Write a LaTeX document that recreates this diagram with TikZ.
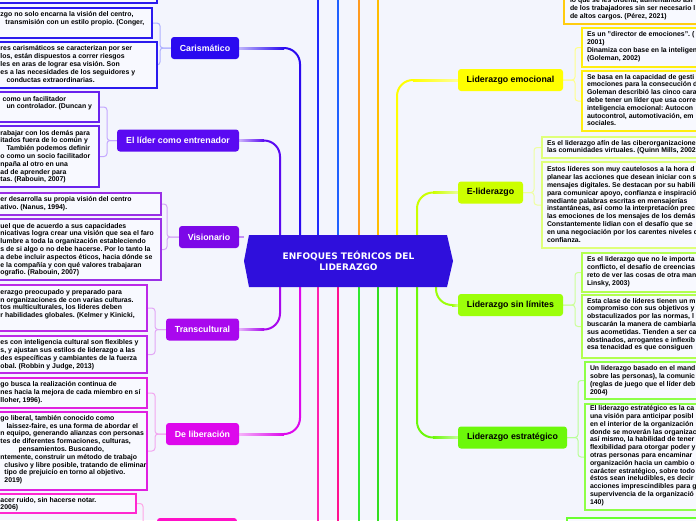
\documentclass[tikz,border=0pt]{standalone}
\usepackage{fontspec}
\setmainfont{Liberation Sans}
\newfontfamily\titlefont{DejaVu Sans}
\usetikzlibrary{backgrounds}
\newcommand{\boxlines}[1]{\begin{tabular}{@{}l@{}}#1\end{tabular}}
\definecolor{bgc}{HTML}{F3F5FD}
\definecolor{boxfill}{HTML}{F8F9FF}
\definecolor{cenc}{HTML}{2F0FDC}
\definecolor{nA}{HTML}{2A0AF0}
\definecolor{nB}{HTML}{5A0AF2}
\definecolor{nC}{HTML}{7C08E8}
\definecolor{nD}{HTML}{A908EE}
\definecolor{nE}{HTML}{DD08EC}
\definecolor{nF}{HTML}{FF10C8}
\definecolor{nG}{HTML}{FFFF00}
\definecolor{nH}{HTML}{CCFF00}
\definecolor{nI}{HTML}{9CFF0A}
\definecolor{nJ}{HTML}{6CF80A}
\definecolor{bA}{HTML}{2A1AEE}
\definecolor{bB}{HTML}{6A22EE}
\definecolor{bC}{HTML}{9A30E6}
\definecolor{bD}{HTML}{BC28E8}
\definecolor{bE}{HTML}{E020E0}
\definecolor{bF}{HTML}{FF28D0}
\definecolor{rA}{HTML}{FFCC10}
\definecolor{rB}{HTML}{FFEE10}
\definecolor{rC}{HTML}{DFFF7A}
\definecolor{rD}{HTML}{B2FF50}
\definecolor{rE}{HTML}{8EFF48}
\definecolor{rF}{HTML}{6AFF30}
\definecolor{kA}{HTML}{AEB0FF}
\definecolor{kB}{HTML}{C4A8FF}
\definecolor{kC}{HTML}{D4A8F6}
\definecolor{kD}{HTML}{E2A6F6}
\definecolor{kE}{HTML}{F2A6F0}
\definecolor{kF}{HTML}{FFA6E6}
\definecolor{kG}{HTML}{FFFF8A}
\definecolor{kH}{HTML}{EEFFA0}
\definecolor{kI}{HTML}{CCFF99}
\definecolor{kJ}{HTML}{B8FF96}
\definecolor{tA}{HTML}{1E2BFF}
\definecolor{tB}{HTML}{2060FF}
\definecolor{tC}{HTML}{FF9A20}
\definecolor{tD}{HTML}{FFBE00}
\definecolor{uA}{HTML}{FF20B0}
\definecolor{uB}{HTML}{FF1090}
\definecolor{uC}{HTML}{30E830}
\definecolor{uD}{HTML}{30DE20}
\definecolor{uE}{HTML}{50F020}
\begin{document}
\begin{tikzpicture}[x=1pt,y=-1pt,
  every node/.style={inner sep=0pt, outer sep=0pt},
  topic/.style={rounded corners=3pt, minimum height=22pt, font=\bfseries\fontsize{8.8}{10}\selectfont},
  ltopic/.style={topic, text=white},
  rtopic/.style={topic, text=black},
  tbox/.style={draw, line width=1.2pt, fill=boxfill},
  btext/.style={font=\bfseries\fontsize{6.9}{7.8}\selectfont\frenchspacing, text=black},
  mainline/.style={line width=2pt, rounded corners=16pt},
  brk/.style={line width=1pt, rounded corners=3pt},
  title/.style={font=\titlefont\bfseries\fontsize{9}{11}\selectfont, text=white, align=center, minimum width=209pt, minimum height=52pt}
]
\useasboundingbox (0,0) rectangle (696,520);
\clip (0,0) rectangle (696,520);

% ---------- central topic ----------
\node[title] (cen) at (348.5,261) {ENFOQUES TEÓRICOS DEL\\LIDERAZGO};

% ---------- left topics ----------
\node[ltopic, fill=nA, minimum width=68pt, anchor=east] (cari) at (239,48) {Carismático};
\node[ltopic, fill=nB, minimum width=122pt, anchor=east] (entr) at (239,140.5) {El líder como entrenador};
\node[ltopic, fill=nC, minimum width=60pt, anchor=east] (vis) at (239,237) {Visionario};
\node[ltopic, fill=nD, minimum width=73pt, anchor=east] (trans) at (239,329.5) {Transcultural};
\node[ltopic, fill=nE, minimum width=73pt, anchor=east] (lib) at (239,434) {De liberación};
\node[ltopic, fill=nF, minimum width=80pt, anchor=north east] (bot) at (237,518) {};

% ---------- right topics ----------
\node[rtopic, fill=nG, minimum width=105pt, anchor=west] (emo) at (458,80) {Liderazgo emocional};
\node[rtopic, fill=nH, minimum width=65pt, anchor=west] (eli) at (458,192.5) {E-liderazgo};
\node[rtopic, fill=nI, minimum width=105pt, anchor=west] (sin) at (458,305) {Liderazgo sin límites};
\node[rtopic, fill=nJ, minimum width=109pt, anchor=west] (est) at (458,437.5) {Liderazgo estratégico};

% ---------- left boxes ----------
\node[tbox, draw=bA, minimum width=160.5pt, minimum height=40pt, anchor=south east] (b0) at (157,3) {};
\node[tbox, draw=bA, minimum width=155.5pt, minimum height=30pt, anchor=north east] (b2) at (152,8) {};
\node[btext, anchor=west] (b2t) at (0.5,19) {\boxlines{zgo no solo encarna la visión del centro,\\\hspace*{5pt}transmisión con un estilo propio. (Conger,}};
\node[tbox, draw=bA, minimum width=160.5pt, minimum height=46pt, anchor=north east] (b3) at (157,42) {};
\node[btext, anchor=west] (b3t) at (0.5,65) {\boxlines{res carismáticos se caracterizan por ser\\los, están dispuestos a correr riesgos\\les en aras de lograr esa visión. Son\\es a las necesidades de los seguidores y\\\hspace*{6pt}conductas extraordinarias.}};
\node[tbox, draw=bB, minimum width=102.5pt, minimum height=30pt, anchor=north east] (b4) at (99,92) {};
\node[btext, anchor=west] (b4t) at (0.5,103.5) {\boxlines{\hspace*{2pt}como un facilitador\\\hspace*{6pt}un controlador. (Duncan y}};
\node[tbox, draw=bB, minimum width=102.5pt, minimum height=61pt, anchor=north east] (b5) at (99,126) {};
\node[btext, anchor=west] (b5t) at (0.5,157) {\boxlines{rabajar con los demás para\\itados fuera de lo común y\\\hspace*{6pt}También podemos definir\\o como un socio facilitador\\npaña al otro en una\\ad de aprender para\\tas. (Rabouin, 2007)}};
\node[tbox, draw=bC, minimum width=164.5pt, minimum height=22pt, anchor=north east] (b6) at (161,193) {};
\node[btext, anchor=west] (b6t) at (0.5,204) {\boxlines{er desarrolla su propia visión del centro\\ativo. (Nanus, 1994).}};
\node[tbox, draw=bC, minimum width=164.5pt, minimum height=61pt, anchor=north east] (b7) at (161,219) {};
\node[btext, anchor=west] (b7t) at (0.5,250) {\boxlines{uel que de acuerdo a sus capacidades\\nicativas logra crear una visión que sea el faro\\lumbre a toda la organización estableciendo\\s de si algo o no debe hacerse. Por lo tanto la\\a debe incluir aspectos éticos, hacia dónde se\\e la compañía y con qué valores trabajaran\\ografio. (Rabouin, 2007)}};
\node[tbox, draw=bD, minimum width=150.5pt, minimum height=46pt, anchor=north east] (b8) at (147,285) {};
\node[btext, anchor=west] (b8t) at (0.5,304.5) {\boxlines{erazgo preocupado y preparado para\\n organizaciones de con varias culturas.\\tos multiculturales, los líderes deben\\r habilidades globales. (Kelmer y Kinicki,}};
\node[tbox, draw=bD, minimum width=150.5pt, minimum height=37pt, anchor=north east] (b9) at (147,336) {};
\node[btext, anchor=west] (b9t) at (0.5,355) {\boxlines{es con inteligencia cultural son flexibles y\\s, y ajustan sus estilos de liderazgo a las\\des específicas y cambiantes de la fuerza\\obal. (Robbin y Judge, 2013)}};
\node[tbox, draw=bE, minimum width=150.5pt, minimum height=30pt, anchor=north east] (b10) at (147,378) {};
\node[btext, anchor=west] (b10t) at (0.5,393) {\boxlines{go busca la realización continua de\\nes hacia la mejora de cada miembro en sí\\lloher, 1996).}};
\node[tbox, draw=bE, minimum width=150.5pt, minimum height=78pt, anchor=north east] (b11) at (147,412) {};
\node[btext, anchor=west] (b11t) at (0.5,450) {\boxlines{go liberal, también conocido como\\\hspace*{6pt}laissez-faire, es una forma de abordar el\\n equipo, generando alianzas con personas\\tes de diferentes formaciones, culturas,\\\hspace*{18pt}pensamientos. Buscando,\\ntemente, construir un método de trabajo\\\hspace*{4pt}clusivo y libre posible, tratando de eliminar\\\hspace*{4pt}tipo de prejuicio en torno al objetivo.\\\hspace*{4pt}2019)}};
\node[tbox, draw=bF, minimum width=139.5pt, minimum height=19pt, anchor=north east] (b12) at (136,494) {};
\node[btext, anchor=west] (b12t) at (0.5,504.5) {\boxlines{acer ruido, sin hacerse notar.\\2006)}};

% ---------- right boxes ----------
\node[tbox, draw=rA, minimum width=140pt, minimum height=40pt, anchor=south west] (rtop) at (564,24) {};
\node[btext, anchor=west] (rtopt) at (570,9) {\boxlines{lo que se les ordena, aumentando así\\de los trabajadores sin ser necesario l\\de altos cargos. (Pérez, 2021)}};
\node[tbox, draw=rB, minimum width=130pt, minimum height=39pt, anchor=north west] (b13) at (582,28) {};
\node[btext, anchor=west] (b13t) at (587,47) {\boxlines{Es un "director de emociones". (\\2001)\\Dinamiza con base en la inteligen\\(Goleman, 2002)}};
\node[tbox, draw=rB, minimum width=130pt, minimum height=60pt, anchor=north west] (b14) at (582,71) {};
\node[btext, anchor=west] (b14t) at (587,101) {\boxlines{Se basa en la capacidad de gesti\\emociones para la consecución d\\Goleman describió las cinco cara\\debe tener un líder que usa corre\\inteligencia emocional: Autocon\\autocontrol, automotivación, em\\sociales.}};
\node[tbox, draw=rC, minimum width=170pt, minimum height=21pt, anchor=north west] (b15) at (542,137) {};
\node[btext, anchor=west] (b15t) at (547,147.5) {\boxlines{Es el liderazgo afín de las ciberorganizacione\\las comunidades virtuales. (Quinn Mills, 2002}};
\node[tbox, draw=rC, minimum width=170pt, minimum height=86pt, anchor=north west] (b16) at (542,162) {};
\node[btext, anchor=west] (b16t) at (547,205.5) {\boxlines{Estos líderes son muy cautelosos a la hora d\\planear las acciones que desean iniciar con s\\mensajes digitales. Se destacan por su habili\\para comunicar apoyo, confianza e inspiració\\mediante palabras escritas en mensajerías\\instantáneas, así como la interpretación prec\\las emociones de los mensajes de los demás\\Constantemente lidian con el desafío que se\\en una negociación por los carentes niveles d\\confianza.}};
\node[tbox, draw=rD, minimum width=130pt, minimum height=39pt, anchor=north west] (b17) at (582,253) {};
\node[btext, anchor=west] (b17t) at (587,272) {\boxlines{Es el liderazgo que no le importa\\conflicto, el desafío de creencias\\reto de ver las cosas de otra man\\Linsky, 2003)}};
\node[tbox, draw=rD, minimum width=130pt, minimum height=63pt, anchor=north west] (b18) at (582,295) {};
\node[btext, anchor=west] (b18t) at (587,325) {\boxlines{Esta clase de líderes tienen un m\\compromiso con sus objetivos y\\obstaculizados por las normas, l\\buscarán la manera de cambiarla\\sus acometidas. Tienden a ser ca\\obstinados, arrogantes e inflexib\\esa tenacidad es que consiguen}};
\node[tbox, draw=rE, minimum width=130pt, minimum height=37pt, anchor=north west] (b19) at (585,362) {};
\node[btext, anchor=west] (b19t) at (590,381) {\boxlines{Un liderazgo basado en el mand\\sobre las personas), la comunic\\(reglas de juego que el líder deb\\2004)}};
\node[tbox, draw=rE, minimum width=130pt, minimum height=106pt, anchor=north west] (b20) at (585,404) {};
\node[btext, anchor=west] (b20t) at (590,456) {\boxlines{El liderazgo estratégico es la ca\\una visión para anticipar posibl\\en el interior de la organización\\donde se moverán las organizac\\así mismo, la habilidad de tener\\flexibilidad para otorgar poder y\\otras personas para encaminar\\organización hacia un cambio o\\carácter estratégico, sobre todo\\éstos sean ineludibles, es decir\\acciones imprescindibles para g\\supervivencia de la organizació\\140)}};
\node[tbox, draw=rF, minimum width=140pt, minimum height=30pt, anchor=north west] (rbot) at (567,518) {};

% ---------- x positions of the trunk lines ----------
\coordinate (xa) at (280,0);
\coordinate (xb) at (300,0);
\coordinate (xg) at (397,0);
\coordinate (xh) at (417,0);
\coordinate (xi) at (436,0);
\coordinate (t1) at (318,-5);
\coordinate (t2) at (338,-5);
\coordinate (t3) at (359,-5);
\coordinate (t4) at (378,-5);
\coordinate (u1) at (318,525);
\coordinate (u2) at (338,525);
\coordinate (u3) at (359,525);
\coordinate (u4) at (378,525);
\coordinate (u5) at (397,525);

\begin{scope}[on background layer]
\clip (0,0) rectangle (696,520);
\fill[bgc] (0,0) rectangle (696,520);
% brackets
\draw[brk,kA] (cari.west) -- ++(-11,0) |- (b2.east);
\draw[brk,kA] (cari.west) -- ++(-11,0) |- (b3.east);
\draw[brk,kB] (entr.west) -- ++(-10,0) |- (b4.east);
\draw[brk,kB] (entr.west) -- ++(-10,0) |- (b5.east);
\draw[brk,kC] (vis.west) -- ++(-12,0) |- (b6.east);
\draw[brk,kC] (vis.west) -- ++(-12,0) |- (b7.east);
\draw[brk,kD] (trans.west) -- ++(-11,0) |- (b8.east);
\draw[brk,kD] (trans.west) -- ++(-11,0) |- (b9.east);
\draw[brk,kE] (lib.west) -- ++(-11,0) |- (b10.east);
\draw[brk,kE] (lib.west) -- ++(-11,0) |- (b11.east);
\draw[brk,kF] (bot.west) -- ++(-14,0) |- (b12.east);
\draw[brk,kG] (emo.east) -- ++(12,0) |- (b13.west);
\draw[brk,kG] (emo.east) -- ++(12,0) |- (b14.west);
\draw[brk,kH] (eli.east) -- ++(11,0) |- (b15.west);
\draw[brk,kH] (eli.east) -- ++(11,0) |- (b16.west);
\draw[brk,kI] (sin.east) -- ++(12,0) |- (b17.west);
\draw[brk,kI] (sin.east) -- ++(12,0) |- (b18.west);
\draw[brk,kJ] (est.east) -- ++(11,0) |- (b19.west);
\draw[brk,kJ] (est.east) -- ++(11,0) |- (b20.west);
% main connectors
\draw[mainline,nA] (cari.east) -| (cen.north -| xb);
\draw[mainline,nB] (entr.east) -| (cen.north -| xa);
\draw[line width=2pt,nC!45!white] (vis.east) -- (vis.east -| cen.west);
\draw[mainline,nD] (trans.east) -| (cen.south -| xa);
\draw[mainline,nE] (lib.east) -| (cen.south -| xb);
\draw[mainline,nG] (cen.north -| xg) |- (emo.west);
\draw[mainline,nH] (cen.north -| xh) |- (eli.west);
\draw[mainline,nI] (cen.south -| xi) |- (sin.west);
\draw[mainline,nJ] (cen.south -| xh) |- (est.west);
% trunks leading off the picture
\draw[line width=2pt,tA] (cen.north -| t1) -- (t1);
\draw[line width=2pt,tB] (cen.north -| t2) -- (t2);
\draw[line width=2pt,tC] (cen.north -| t3) -- (t3);
\draw[line width=2pt,tD] (cen.north -| t4) -- (t4);
\draw[line width=2pt,uA] (cen.south -| u1) -- (u1);
\draw[line width=2pt,uB] (cen.south -| u2) -- (u2);
\draw[line width=2pt,uC] (cen.south -| u3) -- (u3);
\draw[line width=2pt,uD] (cen.south -| u4) -- (u4);
\draw[line width=2pt,uE] (cen.south -| u5) -- (u5);
% fading of the horizontal parts
\shade[left color=nA!30!white, right color=nA] (239,47) rectangle (284,49);
\shade[left color=nB!30!white, right color=nB] (239,139.5) rectangle (264,141.5);
\shade[left color=nD!30!white, right color=nD] (239,328.5) rectangle (264,330.5);
\shade[left color=nE!30!white, right color=nE] (239,433) rectangle (284,435);
\shade[left color=nG, right color=nG!40!white] (413,79) rectangle (458,81);
\shade[left color=nH, right color=nH!40!white] (433,191.5) rectangle (458,193.5);
\shade[left color=nI, right color=nI!40!white] (452,304) rectangle (458,306);
\shade[left color=nJ, right color=nJ!40!white] (433,436.5) rectangle (458,438.5);
% central shape
\fill[cenc] ([xshift=5pt]cen.north west) -- ([xshift=-6pt]cen.north east) -- (cen.east)
  -- ([xshift=-6pt]cen.south east) -- ([xshift=5pt]cen.south west) -- (cen.west) -- cycle;
\end{scope}
\end{tikzpicture}
\end{document}
